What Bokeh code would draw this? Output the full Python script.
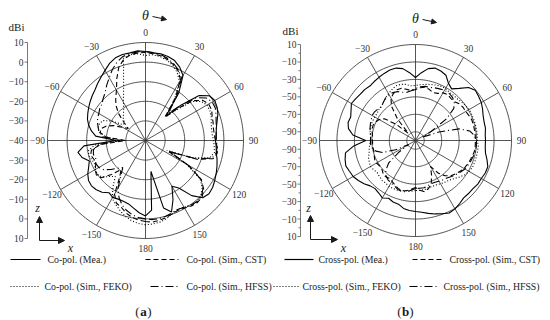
import numpy as np
from bokeh.plotting import figure
from bokeh.models import Range1d, Arrow, NormalHead
from bokeh.embed import file_html
from bokeh.resources import INLINE
from bokeh.core.properties import value

# ---------------- data ----------------
ANGLES = list(range(-180, 181, 5))

A_MEA = [-1.5, -3.0, -5.0, -6.5, -7.0, -7.0, -6.5, -7.5, -5.5, -4.5,
         -4.0, -4.5, -6.0, -8.0, -9.5, -6.5, -5.0, -8.5, -25.0, -14.5,
         -12.0, -10.0, -8.5, -7.5, -6.5, -5.5, -4.5, -3.5, -2.0, -0.5,
         1.3, 3.4, 4.9, 5.4, 5.4, 5.9, 5.4, 4.9, 4.9, 4.4,
         3.4, 1.3, -1.7, -10.4, -23.7, -14.5, -4.3, -0.2, 0.8, 0.3,
         -0.7, -2.2, -3.3, -3.8, -4.3, -3.8, -3.3, -2.2, -1.2, -0.2,
         0.8, 1.8, 2.3, 1.3, -3.3, -10.4, -13.0, -6.8, -1.2, -4.3,
         -24.0, -4.3, -1.5]
A_CST = [1.3, 0.8, -0.2, -1.7, -3.8, -4.8, -8.4, -17.0, -20.6, -15.5,
         -10.4, -9.4, -10.4, -12.0, -12.0, -11.0, -12.0, -17.0, -29.8, -19.6,
         -16.5, -16.5, -18.6, -22.0, -26.7, -29.3, -25.7, -20.6, -16.5, -13.5,
         -10.4, -5.3, -0.2, 2.9, 4.4, 4.9, 4.9, 4.4, 3.9, 2.9,
         1.3, -0.7, -4.3, -13.5, -24.7, -17.0, -8.4, -4.3, -2.8, -2.8,
         -3.8, -4.3, -4.8, -4.8, -4.3, -3.3, -2.8, -4.3, -12.0, -27.2,
         -14.5, -5.3, -1.2, 0.8, 1.3, 0.8, -0.2, -0.7, -0.2, 0.8,
         1.3, 1.8, 1.3]
A_FEKO = [3.0, 2.5, 1.5, 0.0, -2.0, -4.0, -6.0, -11.0, -16.0, -14.0,
          -11.0, -10.0, -10.5, -11.5, -11.0, -10.0, -10.5, -14.0, -28.0, -20.0,
          -16.0, -15.0, -15.0, -16.0, -20.0, -26.0, -26.0, -24.0, -22.5, -20.6,
          -17.5, -13.5, -7.3, 3.4, 4.5, 4.4, 3.4, 3.9, 3.4, 2.4,
          0.8, -1.7, -5.3, -14.0, -24.0, -18.0, -9.0, -5.3, -3.8, -3.8,
          -4.3, -5.3, -5.8, -5.8, -5.3, -4.8, -4.3, -6.0, -14.0, -28.0,
          -16.0, -6.0, -2.2, -0.2, 0.8, 0.3, -0.7, -1.2, -0.2, 1.3,
          2.3, 2.8, 3.0]
A_HFSS = [0.0, -0.5, -1.5, -3.0, -5.0, -8.0, -12.0, -18.0, -22.0, -20.0,
          -17.0, -14.0, -12.5, -12.0, -13.0, -12.5, -13.0, -16.0, -27.0, -18.0,
          -16.0, -15.0, -14.0, -13.0, -12.5, -11.5, -11.0, -9.5, -8.0, -5.5,
          -3.0, 0.0, 2.5, 4.4, 5.0, 5.4, 5.4, 5.0, 4.5, 3.4,
          1.8, -0.2, -3.3, -12.0, -22.0, -15.0, -6.0, -2.2, -0.7, -0.7,
          -1.7, -2.7, -3.3, -3.8, -3.8, -3.3, -3.3, -5.0, -13.0, -26.0,
          -15.0, -5.3, -1.7, 0.3, 0.8, 0.3, -0.7, -1.2, -0.7, 0.0,
          0.5, 0.5, 0.0]

B_MEA = [-18.6, -19.5, -21.0, -24.5, -25.0, -27.0, -24.0, -26.5, -28.0, -26.5,
         -23.0, -20.0, -17.5, -16.5, -15.0, -16.5, -18.5, -29.0, -43.0, -28.0,
         -22.0, -20.0, -21.0, -18.5, -15.2, -16.4, -17.5, -17.5, -18.6, -17.5,
         -16.4, -15.2, -14.1, -14.1, -16.4, -22.0, -27.8, -22.0, -16.4, -14.1,
         -15.2, -17.5, -24.4, -27.8, -22.0, -14.1, -10.6, -11.8, -12.9, -15.2,
         -17.5, -18.6, -18.6, -19.8, -19.8, -19.8, -18.6, -15.2, -11.8, -11.8,
         -12.9, -12.9, -14.1, -14.1, -14.1, -11.8, -9.5, -8.3, -10.6, -12.9,
         -15.2, -17.5, -18.6]
B_CST = [-46.1, -43.9, -41.6, -40.4, -41.6, -43.9, -46.1, -47.3, -46.1, -47.3,
         -49.6, -49.6, -48.4, -48.4, -49.6, -50.7, -50.7, -50.7, -50.7, -50.7,
         -49.6, -48.4, -48.4, -49.6, -51.9, -56.5, -71.4, -88.5, -67.9, -51.9,
         -43.9, -40.4, -38.1, -38.1, -40.4, -42.7, -41.6, -39.3, -38.1, -39.3,
         -41.6, -40.4, -37.0, -35.8, -37.0, -37.0, -34.7, -33.5, -33.5, -32.4,
         -31.3, -31.3, -31.3, -31.3, -31.3, -31.3, -31.3, -32.4, -33.5, -34.7,
         -35.8, -38.1, -40.4, -42.7, -47.3, -54.2, -65.6, -56.5, -47.3, -42.7,
         -40.4, -42.7, -46.1]
B_FEKO = [-42.7, -41.6, -41.6, -40.4, -39.3, -39.3, -39.3, -40.4, -40.4, -41.6,
          -42.7, -41.6, -40.4, -41.6, -42.7, -45.0, -46.1, -47.3, -48.4, -48.4,
          -47.3, -46.1, -46.1, -46.1, -46.1, -46.1, -45.0, -45.0, -42.7, -40.4,
          -38.1, -35.8, -33.5, -33.5, -34.7, -37.0, -37.0, -35.8, -34.7, -33.5,
          -32.4, -31.3, -31.3, -32.4, -32.4, -32.4, -31.3, -30.1, -29.0, -29.0,
          -29.0, -29.0, -29.0, -29.0, -29.0, -27.8, -27.8, -27.8, -27.8, -27.8,
          -29.0, -31.3, -34.7, -38.1, -40.4, -41.6, -42.7, -43.9, -43.9, -43.9,
          -42.7, -42.7, -42.7]
B_HFSS = [-45.0, -42.7, -40.4, -39.3, -40.4, -42.7, -43.9, -45.0, -47.3, -51.9,
          -59.9, -77.1, -90.8, -74.8, -59.9, -53.0, -49.6, -48.4, -48.4, -48.4,
          -47.3, -46.1, -45.0, -43.9, -42.7, -42.7, -43.9, -45.0, -42.7, -40.4,
          -39.3, -39.3, -40.4, -42.7, -43.9, -42.7, -40.4, -38.1, -37.0, -37.0,
          -35.8, -34.7, -33.5, -33.5, -34.7, -37.0, -42.7, -56.5, -79.4, -90.8,
          -71.4, -48.4, -37.0, -32.4, -30.1, -30.1, -30.1, -31.3, -32.4, -33.5,
          -34.7, -37.0, -39.3, -41.6, -43.9, -45.0, -46.1, -47.3, -47.3, -46.1,
          -45.0, -45.0, -45.0]

ANGLE_TICKS = [0, 30, 60, 90, 120, 150, 180, -150, -120, -90, -60, -30]
A_RINGS = [-30, -20, -10, 0, 10]
A_TICKS = [10, 0, -10, -20, -30, -40]
B_RINGS = [-90, -70, -50, -30, -10, 10]
B_TICKS = [10, -10, -30, -50, -70, -90]
A_LEGEND = ["Co-pol. (Mea.)", "Co-pol. (Sim., CST)", "Co-pol. (Sim., FEKO)", "Co-pol. (Sim., HFSS)"]
B_LEGEND = ["Cross-pol. (Mea.)", "Cross-pol. (Sim., CST)", "Cross-pol. (Sim., FEKO)", "Cross-pol. (Sim., HFSS)"]

# ---------------- layout ----------------
SERIF = value("Liberation Serif")
INK = "#1a1a1a"
GRID = "#2a2a2a"
DASHES = ["solid", "5 3", "1 2", "8 3 1 3"]

p = figure(width=550, height=320, x_range=Range1d(0, 550), y_range=Range1d(320, 0),
           output_backend="svg", toolbar_location=None, min_border=0, title=None,
           x_axis_location=None, y_axis_location=None)
p.xgrid.visible = False
p.ygrid.visible = False
p.outline_line_color = None


def fmt(v):
    return str(v).replace("-", "\u2212")


def panel(cx, cy, R, dmin, dmax, rings, ticks, series, axis_x, minor, lab_r):
    def rad(d):
        return (np.asarray(d, dtype=float) - dmin) / (dmax - dmin) * R

    for d in rings:
        rr = float(rad(d))
        t = np.radians(np.arange(0, 361, 2))
        p.line(cx + rr * np.sin(t), cy - rr * np.cos(t), line_color=GRID, line_width=0.8)
    for a in range(0, 180, 30):
        t = np.radians(a)
        p.line([cx - R * np.sin(t), cx + R * np.sin(t)], [cy + R * np.cos(t), cy - R * np.cos(t)],
               line_color=GRID, line_width=0.8)
    t = np.radians(ANGLE_TICKS)
    p.text(cx + lab_r * np.sin(t), cy - lab_r * np.cos(t), text=[fmt(a) for a in ANGLE_TICKS],
           text_font=SERIF, text_font_size="9.5px", text_color="#333333",
           text_align="center", text_baseline="middle")
    th = np.radians(ANGLES)
    for vals, dash in zip(series, DASHES):
        r = np.clip(rad(vals), 0, None)
        p.line(cx + r * np.sin(th), cy - r * np.cos(th), line_color="black",
               line_width=1.1, line_dash=dash)
    p.line([axis_x, axis_x], [cy - R, cy + R], line_color="#555555", line_width=0.8)
    ys, labs = [], []
    for d in ticks:
        rr = float(rad(d))
        for s in ([-1, 1] if rr > 0.5 else [0]):
            ys.append(cy + s * rr)
            labs.append(fmt(d))
    p.segment(x0=[axis_x - 3] * len(ys), y0=ys, x1=[axis_x] * len(ys), y1=ys,
              line_color="#555555", line_width=0.8)
    p.text([axis_x - 4] * len(ys), ys, text=labs, text_font=SERIF, text_font_size="9.5px",
           text_color="#333333", text_align="right", text_baseline="middle")
    if minor:
        mys = []
        for a, b in zip(ticks[:-1], ticks[1:]):
            m = float(rad((a + b) / 2))
            mys += [cy - m, cy + m]
        p.segment(x0=[axis_x - 2] * len(mys), y0=mys, x1=[axis_x] * len(mys), y1=mys,
                  line_color="#555555", line_width=0.8)


panel(145, 140, 98, -40, 10, A_RINGS, A_TICKS, [A_MEA, A_CST, A_FEKO, A_HFSS], 27, False, 108)
panel(415, 140, 96, -100, 10, B_RINGS, B_TICKS, [B_MEA, B_CST, B_FEKO, B_HFSS], 300, True, 106)

p.text([16, 290], [26, 30], text=["dBi", "dBi"], text_font=SERIF, text_font_size="11px",
       text_color=INK, text_align="center", text_baseline="middle")
p.text([145, 415], [15, 18], text=["\u03b8", "\u03b8"], text_font=SERIF, text_font_size="14px",
       text_font_style="italic", text_color=INK, text_align="center", text_baseline="middle")
for (x0, y0, x1, y1) in [(152, 16, 166, 19), (422, 19, 436, 22)]:
    p.add_layout(Arrow(end=NormalHead(size=5, fill_color=INK, line_color=INK),
                       x_start=x0, y_start=y0, x_end=x1, y_end=y1, line_color=INK, line_width=1))
for (ox, oy, hx) in [(39, 240, 64), (310, 239, 337)]:
    p.add_layout(Arrow(end=NormalHead(size=6, fill_color=INK, line_color=INK),
                       x_start=ox, y_start=oy, x_end=ox, y_end=oy - 24, line_color=INK, line_width=1))
    p.add_layout(Arrow(end=NormalHead(size=6, fill_color=INK, line_color=INK),
                       x_start=ox, y_start=oy, x_end=hx, y_end=oy, line_color=INK, line_width=1))
p.text([37, 308], [207, 207], text=["z", "z"], text_font=SERIF, text_font_size="12px",
       text_font_style="italic", text_color=INK, text_align="center", text_baseline="middle")
p.text([70, 343], [247, 247], text=["x", "x"], text_font=SERIF, text_font_size="12px",
       text_font_style="italic", text_color=INK, text_align="center", text_baseline="middle")

leg = [
    (10, 40, 259, 47, A_LEGEND[0], DASHES[0]),
    (145, 178, 259, 186, A_LEGEND[1], DASHES[1]),
    (10, 38, 286, 44, A_LEGEND[2], DASHES[2]),
    (150, 178, 286, 186, A_LEGEND[3], DASHES[3]),
    (284, 313, 259, 318, B_LEGEND[0], DASHES[0]),
    (412, 442, 259, 449, B_LEGEND[1], DASHES[1]),
    (273, 299, 286, 302, B_LEGEND[2], DASHES[2]),
    (409, 436, 286, 443, B_LEGEND[3], DASHES[3]),
]
for x0, x1, y, tx, lab, dash in leg:
    p.line([x0, x1], [y, y], line_color="black", line_width=1.2, line_dash=dash)
    p.text([tx], [y], text=[lab], text_font=SERIF, text_font_size="9.8px", text_color=INK,
           text_align="left", text_baseline="middle")

for cx, letter in [(143, "a"), (405, "b")]:
    p.text([cx - 6, cx + 6], [311, 311], text=["(", ")"], text_font=SERIF, text_font_size="13px",
           text_color=INK, text_align="center", text_baseline="middle")
    p.text([cx], [311], text=[letter], text_font=SERIF, text_font_size="13px",
           text_font_style="bold", text_color=INK, text_align="center", text_baseline="middle")

open("out.html", "w").write(file_html(p, INLINE))
